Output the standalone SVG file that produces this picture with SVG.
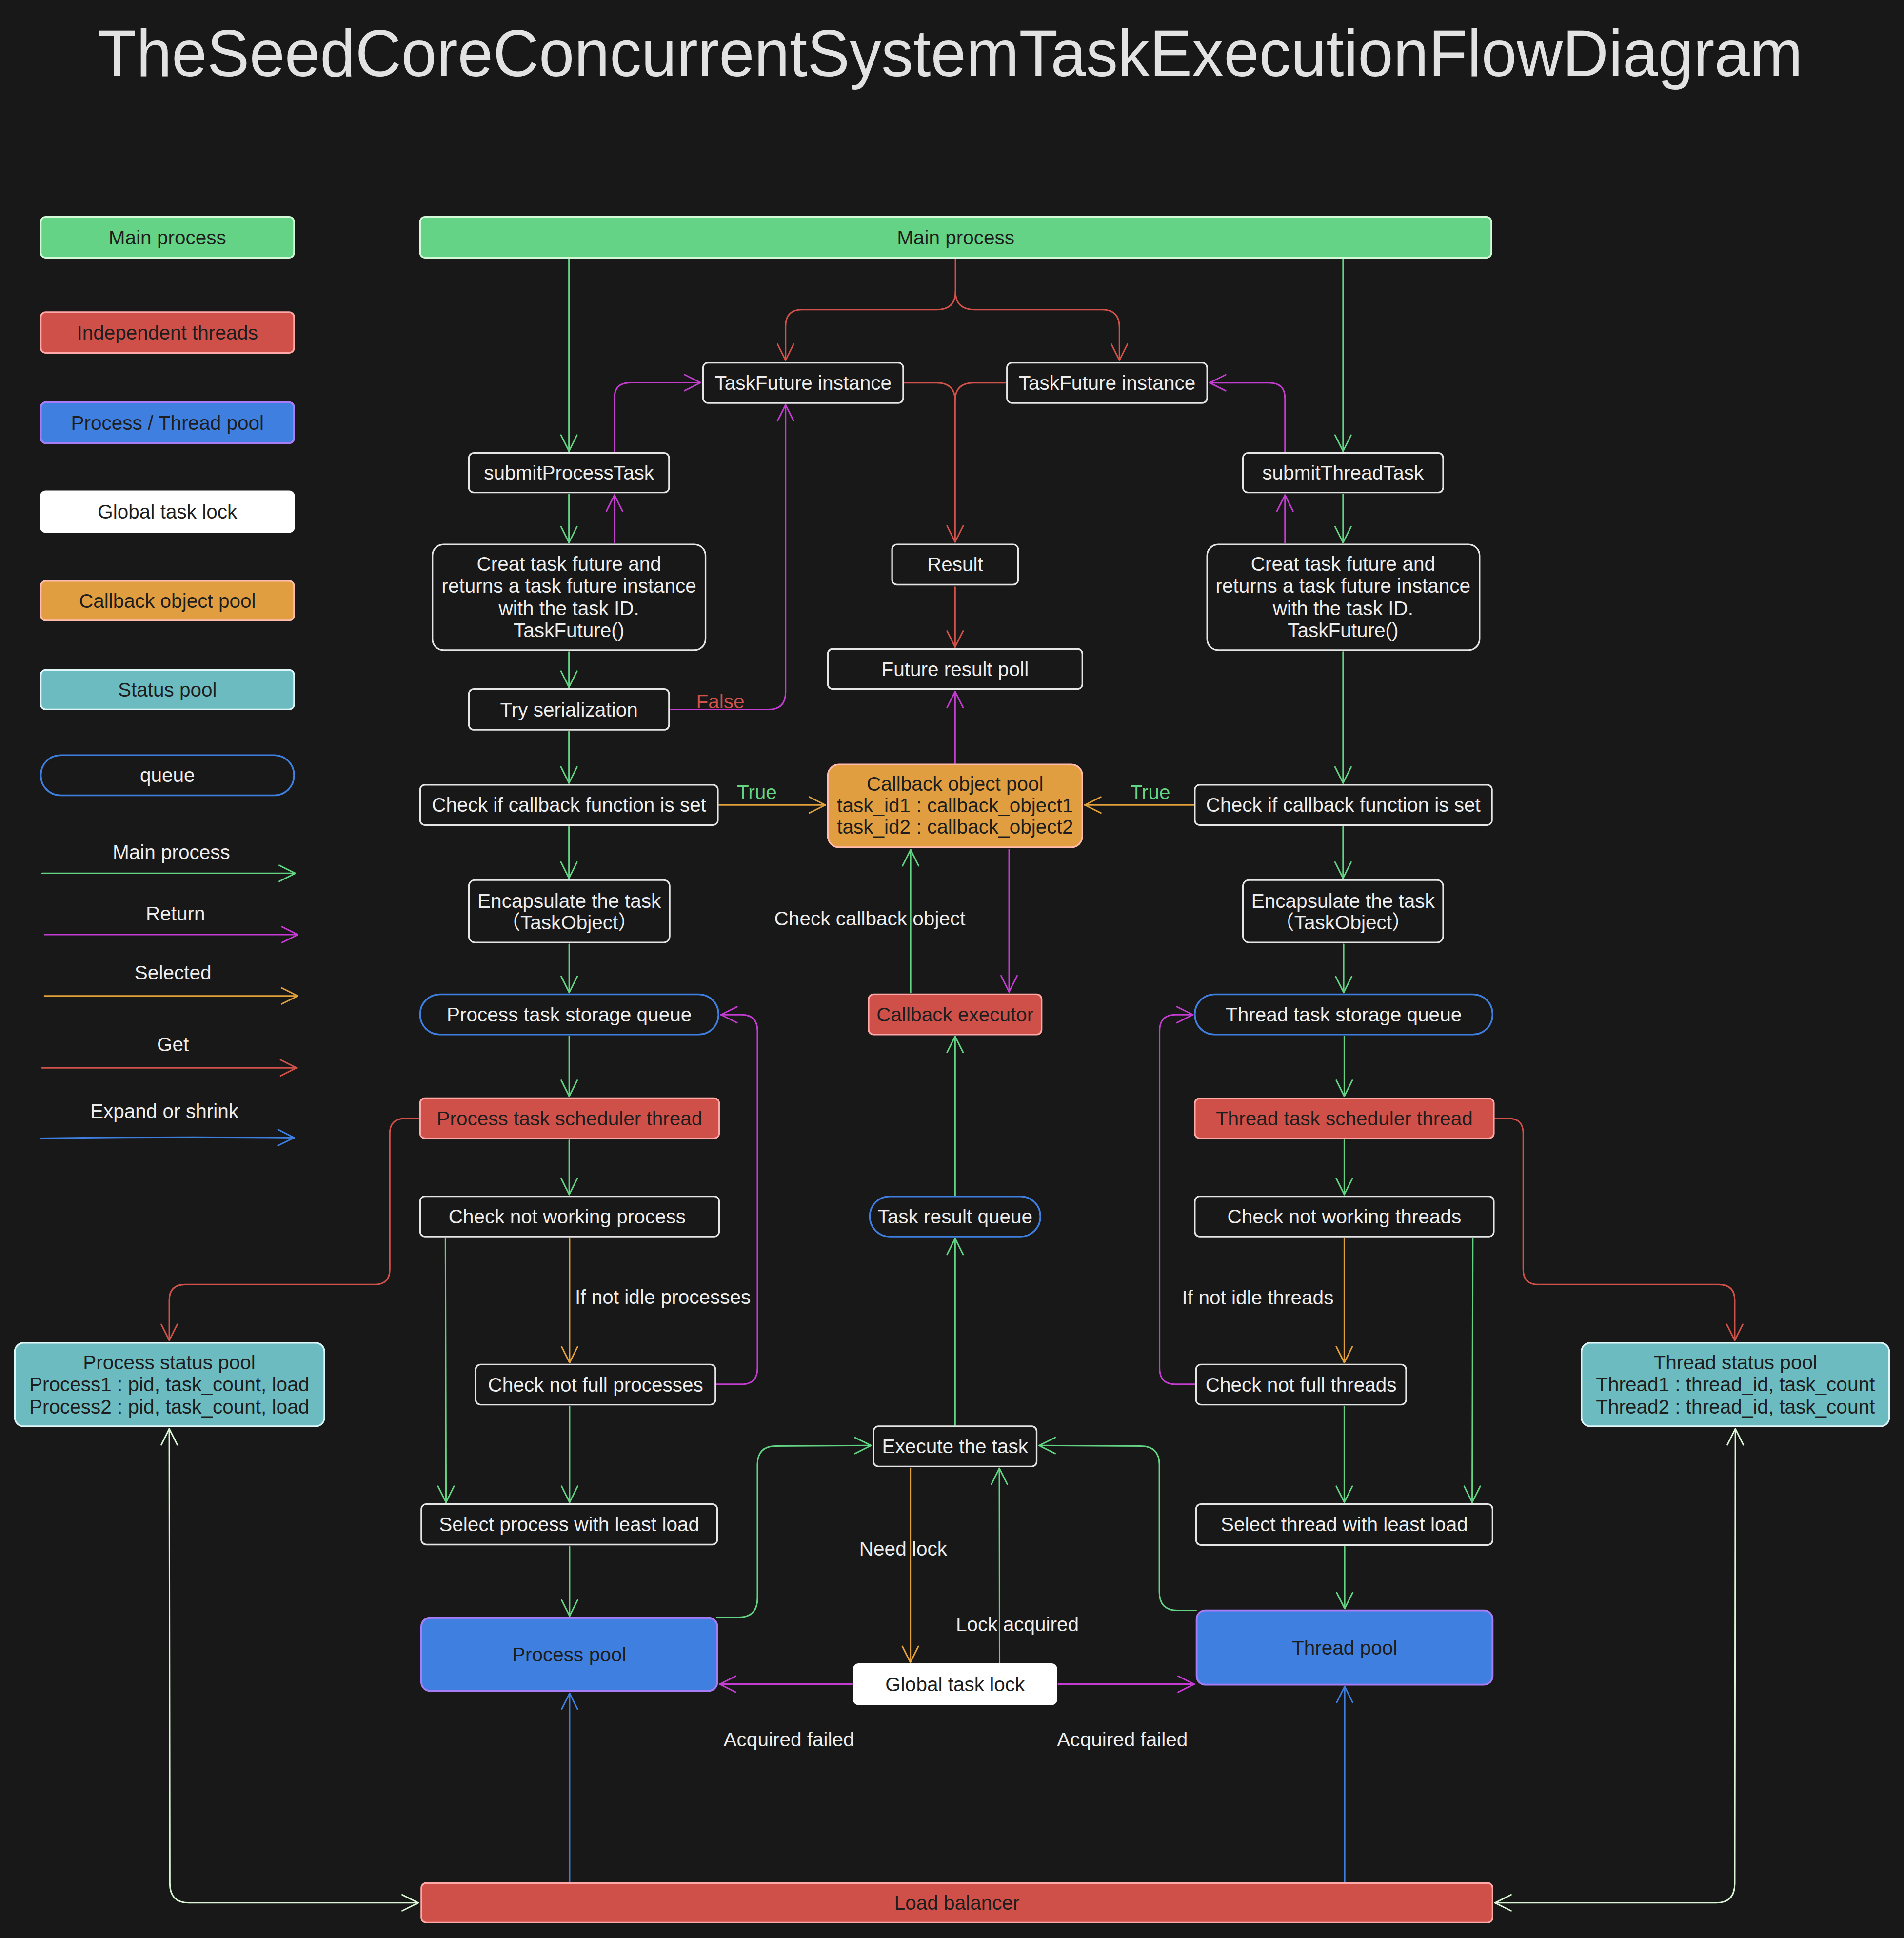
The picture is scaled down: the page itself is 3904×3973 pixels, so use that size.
<svg xmlns="http://www.w3.org/2000/svg" width="3904" height="3973" viewBox="0 0 3904 3973">
<defs>
<style>
text{font-family:"Liberation Sans",Arial,"Noto Sans CJK SC",sans-serif;font-size:16px;text-anchor:middle}
.tw{fill:#ececec}
.td{fill:#1e1e1e}
.title{font-size:53.5px;fill:#e2e2e2}
.box{fill:#181818;stroke:#e6e6e6;stroke-width:1.3}
.green{fill:#64d385;stroke:#d3f9d8;stroke-width:1.3}
.red{fill:#cf5049;stroke:#ffa8a8;stroke-width:1.3}
.blue{fill:#3f7fdf;stroke:#a87cf6;stroke-width:1.5}
.white{fill:#ffffff;stroke:#ffffff;stroke-width:1.3}
.orange{fill:#e09e40;stroke:#ffbcae;stroke-width:1.3}
.teal{fill:#6cbbc0;stroke:#dff6f8;stroke-width:1.3}
.queue{fill:none;stroke:#3f7fdf;stroke-width:1.4}
.ln{fill:none;stroke-width:1.2;stroke-linecap:round;stroke-linejoin:round}
.g{stroke:#63d384}
.m{stroke:#c43dd0}
.o{stroke:#e3a13c}
.r{stroke:#d0524a}
.b{stroke:#3f7fdf}
.p{stroke:#d9f7d4}
.lg{fill:#63d384}
.lr{fill:#d0524a}
</style>
<marker id="mg" viewBox="-14 -8 16 16" refX="0" refY="0" markerWidth="16" markerHeight="16" markerUnits="userSpaceOnUse" orient="auto-start-reverse" overflow="visible"><path class="ln g" d="M-13,-6.5 L0,0 L-13,6.5"/></marker>
<marker id="mm" viewBox="-14 -8 16 16" refX="0" refY="0" markerWidth="16" markerHeight="16" markerUnits="userSpaceOnUse" orient="auto-start-reverse" overflow="visible"><path class="ln m" d="M-13,-6.5 L0,0 L-13,6.5"/></marker>
<marker id="mo" viewBox="-14 -8 16 16" refX="0" refY="0" markerWidth="16" markerHeight="16" markerUnits="userSpaceOnUse" orient="auto-start-reverse" overflow="visible"><path class="ln o" d="M-13,-6.5 L0,0 L-13,6.5"/></marker>
<marker id="mr" viewBox="-14 -8 16 16" refX="0" refY="0" markerWidth="16" markerHeight="16" markerUnits="userSpaceOnUse" orient="auto-start-reverse" overflow="visible"><path class="ln r" d="M-13,-6.5 L0,0 L-13,6.5"/></marker>
<marker id="mb" viewBox="-14 -8 16 16" refX="0" refY="0" markerWidth="16" markerHeight="16" markerUnits="userSpaceOnUse" orient="auto-start-reverse" overflow="visible"><path class="ln b" d="M-13,-6.5 L0,0 L-13,6.5"/></marker>
<marker id="mp" viewBox="-14 -8 16 16" refX="0" refY="0" markerWidth="16" markerHeight="16" markerUnits="userSpaceOnUse" orient="auto-start-reverse" overflow="visible"><path class="ln p" d="M-13,-6.5 L0,0 L-13,6.5"/></marker>
</defs>
<rect x="0" y="0" width="3904" height="3973" fill="#181818"/>
<g transform="scale(2.53342 2.53380)">
<text id="title" class="title" x="769" y="61.5" textLength="1380" lengthAdjust="spacingAndGlyphs">TheSeedCoreConcurrentSystemTaskExecutionFlowDiagram</text>

<g id="legend">
<g id="legend-main"><rect class="green" x="33" y="175.5" width="205" height="33" rx="4"/><text class="td" x="135.5" y="197.6">Main process</text></g>
<g id="legend-threads"><rect class="red" x="33" y="252.5" width="205" height="33" rx="4"/><text class="td" x="135.5" y="274.6">Independent threads</text></g>
<g id="legend-pool"><rect class="blue" x="33" y="325.5" width="205" height="33" rx="4"/><text class="td" x="135.5" y="347.6">Process / Thread pool</text></g>
<g id="legend-lock"><rect class="white" x="33" y="397.5" width="205" height="33" rx="4"/><text class="td" x="135.5" y="419.6">Global task lock</text></g>
<g id="legend-callback"><rect class="orange" x="33" y="470" width="205" height="32" rx="4"/><text class="td" x="135.5" y="491.6">Callback object pool</text></g>
<g id="legend-status"><rect class="teal" x="33" y="542" width="205" height="32" rx="4"/><text class="td" x="135.5" y="563.6">Status pool</text></g>
<g id="legend-queue"><rect class="queue" x="33" y="611" width="205" height="32.5" rx="16"/><text class="tw" x="135.5" y="632.6">queue</text></g>
<g id="legend-arrows">
<text class="tw" x="138.7" y="695">Main process</text><path class="ln g" d="M34,706.6 L239,706.6" marker-end="url(#mg)"/>
<text class="tw" x="142" y="744.9">Return</text><path class="ln m" d="M36,756.2 L241,756.2" marker-end="url(#mm)"/>
<text class="tw" x="140" y="792.3">Selected</text><path class="ln o" d="M36,805.8 L241,805.8" marker-end="url(#mo)"/>
<text class="tw" x="140" y="850.6">Get</text><path class="ln r" d="M34,864 L240,864" marker-end="url(#mr)"/>
<text class="tw" x="133" y="904.6">Expand or shrink</text><path class="ln b" d="M33,921 Q136,919.5 238,920.5" marker-end="url(#mb)"/>
</g>
</g>

<g id="connectors">
<path class="ln g" d="M460.5,209.5 L460.5,365" marker-end="url(#mg)"/>
<path class="ln g" d="M1087,209.5 L1087,365" marker-end="url(#mg)"/>
<path class="ln g" d="M460.5,400 L460.5,439" marker-end="url(#mg)"/>
<path class="ln g" d="M1087,400 L1087,439" marker-end="url(#mg)"/>
<path class="ln g" d="M460.5,527.5 L460.5,556" marker-end="url(#mg)"/>
<path class="ln g" d="M460.5,592 L460.5,633.5" marker-end="url(#mg)"/>
<path class="ln g" d="M1087,527.5 L1087,633.5" marker-end="url(#mg)"/>
<path class="ln g" d="M460.5,669 L460.5,710.5" marker-end="url(#mg)"/>
<path class="ln g" d="M1087,669 L1087,710.5" marker-end="url(#mg)"/>
<path class="ln g" d="M460.7,764 L460.7,803" marker-end="url(#mg)"/>
<path class="ln g" d="M1087.5,764 L1087.5,803" marker-end="url(#mg)"/>
<path class="ln g" d="M460.7,838.5 L460.7,887" marker-end="url(#mg)"/>
<path class="ln g" d="M1088,838.5 L1088,887" marker-end="url(#mg)"/>
<path class="ln g" d="M460.7,922.5 L460.7,966.5" marker-end="url(#mg)"/>
<path class="ln g" d="M1088,922.5 L1088,966.5" marker-end="url(#mg)"/>
<path class="ln g" d="M360.5,1002 L361,1215.5" marker-end="url(#mg)"/>
<path class="ln g" d="M461,1138 L461,1215.5" marker-end="url(#mg)"/>
<path class="ln g" d="M1192,1002 L1191.5,1215.5" marker-end="url(#mg)"/>
<path class="ln g" d="M1088,1138 L1088,1215.5" marker-end="url(#mg)"/>
<path class="ln g" d="M461,1251.5 L461,1307.5" marker-end="url(#mg)"/>
<path class="ln g" d="M1088.3,1251.5 L1088.3,1301.5" marker-end="url(#mg)"/>
<path class="ln g" d="M580,1308.5 L598,1308.5 Q613,1308.5 613,1293 L613,1185 Q613,1170 628,1170 L705,1169.5" marker-end="url(#mg)"/>
<path class="ln g" d="M968,1303 L953,1303 Q938.3,1303 938.3,1288 L938.3,1185 Q938.3,1170 923,1170 L841,1169.5" marker-end="url(#mg)"/>
<path class="ln g" d="M773,1153 L773,1002" marker-end="url(#mg)"/>
<path class="ln g" d="M773,967 L773,838.5" marker-end="url(#mg)"/>
<path class="ln g" d="M737,803 L737,687.5" marker-end="url(#mg)"/>
<path class="ln g" d="M809,1345.5 L808.8,1188" marker-end="url(#mg)"/>
<path class="ln p" d="M137,1156 L137.5,1524 Q137.5,1539.5 153,1539.5 L338.5,1539.5" marker-start="url(#mp)" marker-end="url(#mp)"/>
<path class="ln p" d="M1404.5,1156 L1404,1524 Q1404,1539.5 1389,1539.5 L1210,1539.5" marker-start="url(#mp)" marker-end="url(#mp)"/>
<path class="ln m" d="M497.3,365.5 L497.3,322 Q497.3,309.6 510,309.6 L567,309.6" marker-end="url(#mm)"/>
<path class="ln m" d="M497.3,439 L497.3,400.5" marker-end="url(#mm)"/>
<path class="ln m" d="M542.5,574 L622,574 Q635.8,574 635.8,560 L635.8,327.5" marker-end="url(#mm)"/>
<path class="ln m" d="M1040,365.5 L1040,322 Q1040,309.7 1027,309.7 L979,309.7" marker-end="url(#mm)"/>
<path class="ln m" d="M1040,439 L1040,400.5" marker-end="url(#mm)"/>
<path class="ln m" d="M773,617.5 L773,559.5" marker-end="url(#mm)"/>
<path class="ln m" d="M816.7,687.5 L816.7,802.5" marker-end="url(#mm)"/>
<path class="ln m" d="M580,1120 L600,1120 Q613,1120 613,1107 L613,834 Q613,821 600,821 L583.5,821" marker-end="url(#mm)"/>
<path class="ln m" d="M967.5,1120 L951.5,1120 Q938.5,1120 938.5,1107 L938.5,834 Q938.5,821 951.5,821 L965.5,821" marker-end="url(#mm)"/>
<path class="ln m" d="M689.5,1362.6 L582.5,1362.6" marker-end="url(#mm)"/>
<path class="ln m" d="M856.5,1362.6 L966.5,1362.6" marker-end="url(#mm)"/>
<path class="ln o" d="M582,651.3 L668,651.3" marker-end="url(#mo)"/>
<path class="ln o" d="M966,651.3 L878,651.3" marker-end="url(#mo)"/>
<path class="ln o" d="M461,1002 L461,1102.5" marker-end="url(#mo)"/>
<path class="ln o" d="M1088,1002 L1088,1102.5" marker-end="url(#mo)"/>
<path class="ln o" d="M736.8,1188 L736.8,1345" marker-end="url(#mo)"/>
<path class="ln r" d="M773.3,209.5 L773.3,236 Q773.3,250.5 758,250.5 L649,250.5 Q635.8,250.5 635.8,264 L635.8,291.5" marker-end="url(#mr)"/>
<path class="ln r" d="M773.3,236 Q773.3,250.5 789,250.5 L892,250.5 Q906,250.5 906,265 L906,291.5" marker-end="url(#mr)"/>
<path class="ln r" d="M732,309.7 L758,309.7 Q773,309.7 773,324 L773,438.5" marker-end="url(#mr)"/>
<path class="ln r" d="M813.6,309.7 L788,309.7 Q773,309.7 773,324"/>
<path class="ln r" d="M773,475 L773,523.5" marker-end="url(#mr)"/>
<path class="ln r" d="M339,905 L328,905 Q315.5,905 315.5,917 L315.5,1027 Q315.5,1039.3 303,1039.3 L150,1039.3 Q137,1039.3 137,1052 L137,1084.5" marker-end="url(#mr)"/>
<path class="ln r" d="M1210,905 L1221,905 Q1232.8,905 1232.8,917 L1232.8,1027 Q1232.8,1039.3 1245,1039.3 L1391,1039.3 Q1404,1039.3 1404,1052 L1404,1084.5" marker-end="url(#mr)"/>
<path class="ln b" d="M461,1523 L461,1370" marker-end="url(#mb)"/>
<path class="ln b" d="M1088.3,1523 L1088.3,1364.5" marker-end="url(#mb)"/>
</g>

<g id="labels">
<text class="lr" x="583" y="573.2">False</text>
<text class="lg" x="612.6" y="646.3">True</text>
<text class="lg" x="931" y="646.3">True</text>
<text class="tw" x="704" y="748.6">Check callback object</text>
<text class="tw" x="536.5" y="1055">If not idle processes</text>
<text class="tw" x="1018" y="1055.2">If not idle threads</text>
<text class="tw" x="731" y="1258.6">Need lock</text>
<text class="tw" x="823.4" y="1319.6">Lock acquired</text>
<text class="tw" x="638.5" y="1413">Acquired failed</text>
<text class="tw" x="908.4" y="1413">Acquired failed</text>
</g>

<g id="n-main"><rect class="green" x="340" y="175.5" width="867" height="33" rx="4"/><text class="td" x="773.5" y="197.6">Main process</text></g>
<g id="n-tf-left"><rect class="box" x="569" y="293.5" width="162" height="32.5" rx="4"/><text class="tw" x="650" y="315.3">TaskFuture instance</text></g>
<g id="n-tf-right"><rect class="box" x="815" y="293.5" width="162" height="32.5" rx="4"/><text class="tw" x="896" y="315.3">TaskFuture instance</text></g>
<g id="n-submit-process"><rect class="box" x="379.5" y="366.5" width="162" height="32" rx="4"/><text class="tw" x="460.5" y="388.1">submitProcessTask</text></g>
<g id="n-submit-thread"><rect class="box" x="1006" y="366.5" width="162" height="32" rx="4"/><text class="tw" x="1087" y="388.1">submitThreadTask</text></g>
<g id="n-creat-left"><rect class="box" x="350" y="440.5" width="221" height="85.5" rx="9"/><text class="tw" x="460.5" y="461.6">Creat task future and</text><text class="tw" x="460.5" y="479.6">returns a task future instance</text><text class="tw" x="460.5" y="497.6">with the task ID.</text><text class="tw" x="460.5" y="515.6">TaskFuture()</text></g>
<g id="n-creat-right"><rect class="box" x="977" y="440.5" width="220.5" height="85.5" rx="9"/><text class="tw" x="1087" y="461.6">Creat task future and</text><text class="tw" x="1087" y="479.6">returns a task future instance</text><text class="tw" x="1087" y="497.6">with the task ID.</text><text class="tw" x="1087" y="515.6">TaskFuture()</text></g>
<g id="n-result"><rect class="box" x="722" y="440.5" width="102" height="32.5" rx="4"/><text class="tw" x="773" y="462.3">Result</text></g>
<g id="n-poll"><rect class="box" x="670" y="525" width="206" height="32.5" rx="4"/><text class="tw" x="773" y="546.9">Future result poll</text></g>
<g id="n-try-ser"><rect class="box" x="379.5" y="557.5" width="162" height="33" rx="4"/><text class="tw" x="460.5" y="579.6">Try serialization</text></g>
<g id="n-check-cb-left"><rect class="box" x="340" y="635" width="241" height="32.5" rx="4"/><text class="tw" x="460.5" y="656.9">Check if callback function is set</text></g>
<g id="n-check-cb-right"><rect class="box" x="967" y="635" width="240.5" height="32.5" rx="4"/><text class="tw" x="1087.2" y="656.9">Check if callback function is set</text></g>
<g id="n-cb-pool"><rect class="orange" x="670" y="618.5" width="206" height="67" rx="9"/><text class="td" x="773" y="639.6">Callback object pool</text><text class="td" x="773" y="657.1">task_id1 : callback_object1</text><text class="td" x="773" y="674.6">task_id2 : callback_object2</text></g>
<g id="n-encap-left"><rect class="box" x="379.5" y="712" width="162.5" height="50.5" rx="5"/><text class="tw" x="460.7" y="734.3">Encapsulate the task</text><text class="tw" x="460.7" y="751.9">（TaskObject）</text></g>
<g id="n-encap-right"><rect class="box" x="1006" y="712" width="162" height="50.5" rx="5"/><text class="tw" x="1087" y="734.3">Encapsulate the task</text><text class="tw" x="1087" y="751.9">（TaskObject）</text></g>
<g id="n-process-queue"><rect class="queue" x="340" y="804.5" width="241.5" height="32.5" rx="16"/><text class="tw" x="460.7" y="826.3">Process task storage queue</text></g>
<g id="n-thread-queue"><rect class="queue" x="967" y="804.5" width="241" height="32.5" rx="16"/><text class="tw" x="1087.5" y="826.3">Thread task storage queue</text></g>
<g id="n-cb-exec"><rect class="red" x="703" y="804.5" width="140" height="32.5" rx="4"/><text class="td" x="773" y="826.3">Callback executor</text></g>
<g id="n-process-scheduler"><rect class="red" x="340" y="888.5" width="242" height="32.5" rx="4"/><text class="td" x="461" y="910.3">Process task scheduler thread</text></g>
<g id="n-thread-scheduler"><rect class="red" x="967" y="888.7" width="242" height="32.3" rx="4"/><text class="td" x="1088" y="910.3">Thread task scheduler thread</text></g>
<g id="n-cnw-process"><rect class="box" x="340" y="968" width="242" height="32.5" rx="4"/><text class="tw" x="459" y="989.9">Check not working process</text></g>
<g id="n-cnw-thread"><rect class="box" x="967" y="968" width="242" height="32.5" rx="4"/><text class="tw" x="1088" y="989.9">Check not working threads</text></g>
<g id="n-result-queue"><rect class="queue" x="704" y="968" width="138" height="32.5" rx="16"/><text class="tw" x="773" y="989.9">Task result queue</text></g>
<g id="n-process-status"><rect class="teal" x="12" y="1086.5" width="250.5" height="67.5" rx="7"/><text class="td" x="137" y="1108">Process status pool</text><text class="td" x="137" y="1125.6">Process1 : pid, task_count, load</text><text class="td" x="137" y="1143.6">Process2 : pid, task_count, load</text></g>
<g id="n-thread-status"><rect class="teal" x="1280" y="1086.5" width="249" height="67.5" rx="7"/><text class="td" x="1404.5" y="1108">Thread status pool</text><text class="td" x="1404.5" y="1125.6">Thread1 : thread_id, task_count</text><text class="td" x="1404.5" y="1143.6">Thread2 : thread_id, task_count</text></g>
<g id="n-cnf-process"><rect class="box" x="385" y="1104" width="194" height="32.5" rx="4"/><text class="tw" x="482" y="1125.8">Check not full processes</text></g>
<g id="n-cnf-thread"><rect class="box" x="968" y="1104" width="170" height="32.5" rx="4"/><text class="tw" x="1053" y="1125.8">Check not full threads</text></g>
<g id="n-execute"><rect class="box" x="707" y="1154" width="132" height="32.5" rx="4"/><text class="tw" x="773" y="1175.8">Execute the task</text></g>
<g id="n-select-process"><rect class="box" x="341" y="1217" width="239.5" height="32.7" rx="4"/><text class="tw" x="460.7" y="1238.9">Select process with least load</text></g>
<g id="n-select-thread"><rect class="box" x="968" y="1217" width="240" height="33" rx="4"/><text class="tw" x="1088" y="1238.9">Select thread with least load</text></g>
<g id="n-process-pool"><rect class="blue" x="341" y="1309" width="239.5" height="59" rx="7"/><text class="td" x="460.7" y="1344.1">Process pool</text></g>
<g id="n-thread-pool"><rect class="blue" x="968.5" y="1303" width="239.5" height="60" rx="7"/><text class="td" x="1088.3" y="1338.6">Thread pool</text></g>
<g id="n-global-lock"><rect class="white" x="691" y="1346.5" width="164" height="32.5" rx="4"/><text class="td" x="773" y="1368.3">Global task lock</text></g>
<g id="n-load-balancer"><rect class="red" x="341" y="1523.5" width="867" height="32" rx="4"/><text class="td" x="774.5" y="1545.1">Load balancer</text></g>
</g>
</svg>
